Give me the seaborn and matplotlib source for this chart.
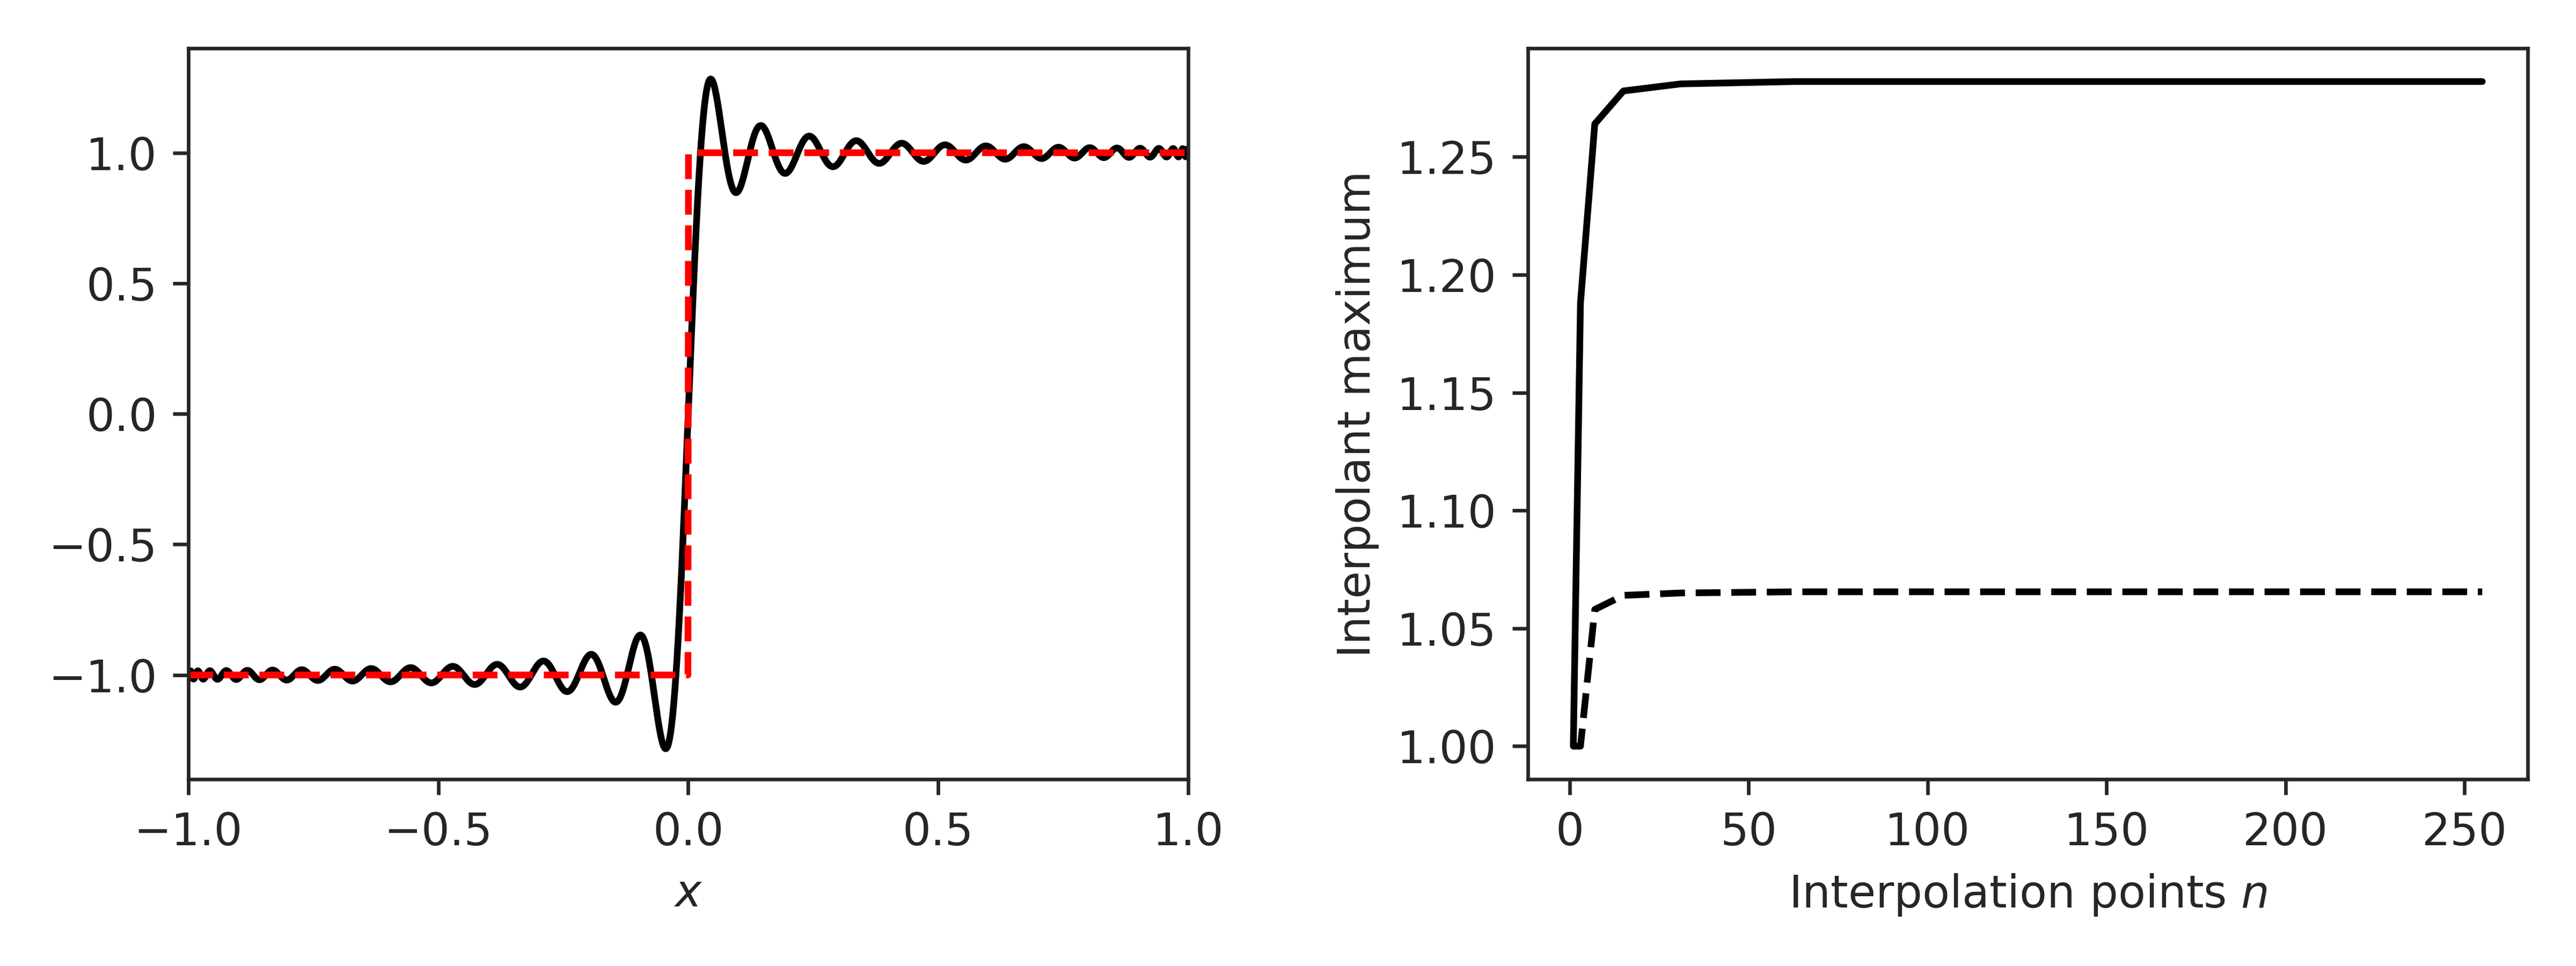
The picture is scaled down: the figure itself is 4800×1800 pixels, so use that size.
import numpy as np
import pandas as pd
import matplotlib
matplotlib.use("Agg")
import matplotlib.pyplot as plt
import seaborn as sns

# right panel: interpolant maximum vs number of points
n_points = [1, 3, 7, 15, 31, 63, 127, 255]
max_plain = [1.0, 1.188, 1.264, 1.278, 1.281, 1.282, 1.282, 1.282]
max_filtered = [1.0, 1.0, 1.058, 1.064, 1.065, 1.0655, 1.0655, 1.0655]

# left panel: Chebyshev interpolant of the step function (64 nodes, none at 0)
degree = 63
x = np.linspace(-1, 1, 4001)
coef = np.polynomial.chebyshev.chebinterpolate(np.sign, degree)
interp = np.polynomial.chebyshev.chebval(x, coef)
step = np.sign(x)

sns.set_style("ticks")
plt.rcParams["font.family"] = ["DejaVu Sans"]
fig, (ax1, ax2) = plt.subplots(1, 2, figsize=(8, 3), dpi=600)

left = pd.DataFrame({"x": x, "interp": interp, "step": step})
sns.lineplot(data=left, x="x", y="interp", color="black", lw=1.5, ax=ax1)
sns.lineplot(data=left, x="x", y="step", color="red", lw=1.5, ls="--", ax=ax1)
ax1.set_xlim(-1, 1)
ax1.set_ylim(-1.4, 1.4)
ax1.set_xticks([-1, -0.5, 0, 0.5, 1])
ax1.set_yticks([-1, -0.5, 0, 0.5, 1])
ax1.set_xlabel("$x$", fontsize=10)
ax1.set_ylabel("")

right = pd.DataFrame({"n": n_points, "a": max_plain, "b": max_filtered})
sns.lineplot(data=right, x="n", y="a", color="black", lw=1.5, ax=ax2)
sns.lineplot(data=right, x="n", y="b", color="black", lw=1.5, ls="--", ax=ax2)
ax2.set_xticks([0, 50, 100, 150, 200, 250])
ax2.set_yticks([1.0, 1.05, 1.10, 1.15, 1.20, 1.25])
ax2.set_xlabel("Interpolation points $n$", fontsize=10)
ax2.set_ylabel("Interpolant maximum", fontsize=10)

for ax in (ax1, ax2):
    ax.tick_params(labelsize=10)
    for s in ax.spines.values():
        s.set_visible(True)
        s.set_linewidth(0.8)

plt.tight_layout(w_pad=2.5)
plt.savefig("out.png", dpi=600)
